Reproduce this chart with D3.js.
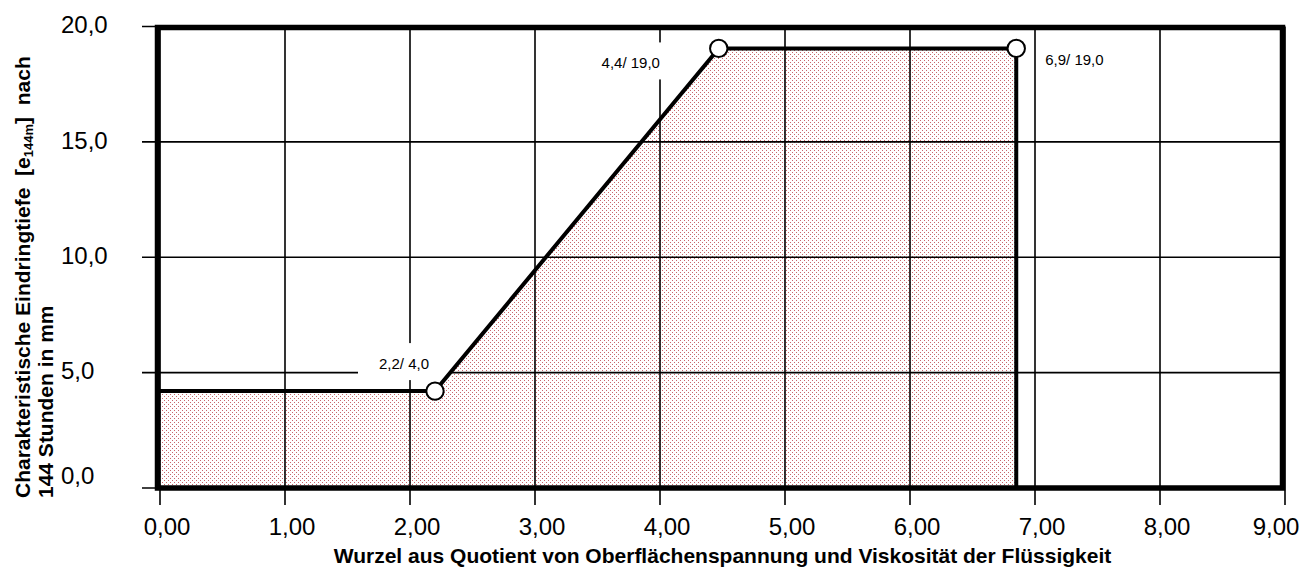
<!DOCTYPE html>
<html>
<head>
<meta charset="utf-8">
<script src="https://cdn.jsdelivr.net/npm/d3@7"></script>
<style>
html, body { margin: 0; padding: 0; background: #fff; }
svg { display: block; font-family: Arial, "Liberation Sans", sans-serif; }
</style>
</head>
<body>
<div id="chart"></div>
<script>
// values
const xTicks = [0, 1, 2, 3, 4, 5, 6, 7, 8, 9];
const yTicks = [0, 5, 10, 15, 20];
const curveX = [0, 2.2, 4.47, 6.85, 6.85];
const curveY = [4.2, 4.2, 19.05, 19.05, 0];
const pointX = [2.2, 4.47, 6.85];
const pointY = [4.2, 19.05, 19.05];
const pointLabels = ['2,2/ 4,0', '4,4/ 19,0', '6,9/ 19,0'];
const xTitle = 'Wurzel aus Quotient von Oberflächenspannung und Viskosität der Flüssigkeit';
const yTitleLine1 = ['Charakteristische Eindringtiefe\u00a0\u00a0[e', '144m', ']\u00a0\u00a0nach'];
const yTitleLine2 = '144 Stunden in mm';

// label placement relative to its point
const labelLayout = [
    { dx: -31, dy: -22, anchor: 'middle', box: true },
    { dx: -88, dy: 20, anchor: 'middle', box: true },
    { dx: 29, dy: 17, anchor: 'start', box: false }
];

const width = 1304, height = 570;
const de = d3.formatLocale({ decimal: ',', thousands: '.', grouping: [3], currency: ['', ' €'] });
const fmtX = de.format('.2f');
const fmtY = de.format('.1f');

const x = d3.scaleLinear().domain([0, 9]).range([160, 1285]);
const y = d3.scaleLinear().domain([0, 20]).range([488, 26.5]);

const svg = d3.select('#chart').append('svg')
    .attr('width', width)
    .attr('height', height);

const defs = svg.append('defs');
const pat = defs.append('pattern')
    .attr('id', 'dots')
    .attr('patternUnits', 'userSpaceOnUse')
    .attr('width', 4)
    .attr('height', 4);
pat.append('rect').attr('width', 4).attr('height', 4).attr('fill', '#fff');
pat.append('rect').attr('x', 0).attr('y', 0).attr('width', 1).attr('height', 1).attr('fill', '#b5323a').attr('fill-opacity', 0.75);
pat.append('rect').attr('x', 2).attr('y', 2).attr('width', 1).attr('height', 1).attr('fill', '#b5323a').attr('fill-opacity', 0.75);

const pts = curveX.map((v, i) => [v, curveY[i]]);

// hatched area under the curve
const area = d3.area()
    .x(d => x(d[0]))
    .y0(y(0))
    .y1(d => y(d[1]));
svg.append('path')
    .datum(pts.slice(0, 4))
    .attr('d', area)
    .attr('fill', 'url(#dots)')
    .attr('shape-rendering', 'crispEdges');

// grid
svg.append('g').selectAll('line')
    .data(yTicks)
    .join('line')
    .attr('x1', x(0) - 18)
    .attr('x2', x(9))
    .attr('y1', d => y(d))
    .attr('y2', d => y(d))
    .attr('stroke', '#000')
    .attr('stroke-width', 1.6);
svg.append('g').selectAll('line')
    .data(xTicks)
    .join('line')
    .attr('x1', d => x(d))
    .attr('x2', d => x(d))
    .attr('y1', y(20))
    .attr('y2', y(0) + 17)
    .attr('stroke', '#000')
    .attr('stroke-width', 1.6);

// white boxes behind some point labels
svg.append('g').selectAll('rect')
    .data(pointX.map((v, i) => i).filter(i => labelLayout[i].box))
    .join('rect')
    .attr('x', i => x(pointX[i]) + labelLayout[i].dx - 46)
    .attr('y', i => y(pointY[i]) + labelLayout[i].dy - 26)
    .attr('width', 94)
    .attr('height', 37)
    .attr('fill', '#fff');

// frame
svg.append('rect')
    .attr('x', x(0) - 2.5)
    .attr('y', y(20) + 1)
    .attr('width', x(9) - x(0))
    .attr('height', y(0) - y(20) - 1)
    .attr('fill', 'none')
    .attr('stroke', '#000')
    .attr('stroke-width', 5.5);

// curve
svg.append('path')
    .datum(pts)
    .attr('d', d3.line().x(d => x(d[0])).y(d => y(d[1])))
    .attr('fill', 'none')
    .attr('stroke', '#000')
    .attr('stroke-width', 4)
    .attr('stroke-linejoin', 'miter');

svg.append('g').selectAll('circle')
    .data(pointX)
    .join('circle')
    .attr('cx', d => x(d))
    .attr('cy', (d, i) => y(pointY[i]))
    .attr('r', 8.7)
    .attr('fill', '#fff')
    .attr('stroke', '#000')
    .attr('stroke-width', 2);

svg.append('g').selectAll('text')
    .data(pointLabels)
    .join('text')
    .attr('x', (d, i) => x(pointX[i]) + labelLayout[i].dx)
    .attr('y', (d, i) => y(pointY[i]) + labelLayout[i].dy)
    .attr('text-anchor', (d, i) => labelLayout[i].anchor)
    .style('font-size', '15px')
    .attr('fill', '#000')
    .text(d => d);

// tick labels
svg.append('g').selectAll('text')
    .data(xTicks)
    .join('text')
    .attr('x', d => Math.min(x(d) + 7, width - 28))
    .attr('y', 535)
    .attr('text-anchor', 'middle')
    .style('font-size', '24px')
    .text(d => fmtX(d));
svg.append('g').selectAll('text')
    .data(yTicks)
    .join('text')
    .attr('x', 61)
    .attr('y', d => Math.min(y(d) - 2, 475))
    .attr('dy', '0.36em')
    .style('font-size', '24px')
    .text(d => fmtY(d));

// axis titles
svg.append('text')
    .attr('x', (x(0) + x(9)) / 2)
    .attr('y', 563)
    .attr('text-anchor', 'middle')
    .style('font-size', '21px')
    .style('font-weight', 'bold')
    .text(xTitle);

const yt = svg.append('g')
    .attr('transform', 'translate(0,498) rotate(-90)')
    .style('font-size', '21px')
    .style('font-weight', 'bold');
const l1 = yt.append('text').attr('x', 0).attr('y', 30);
l1.append('tspan').text(yTitleLine1[0]);
l1.append('tspan').attr('dy', 3).style('font-size', '13px').text(yTitleLine1[1]);
l1.append('tspan').attr('dy', -3).text(yTitleLine1[2]);
yt.append('text').attr('x', 0).attr('y', 53).text(yTitleLine2);
</script>
</body>
</html>
